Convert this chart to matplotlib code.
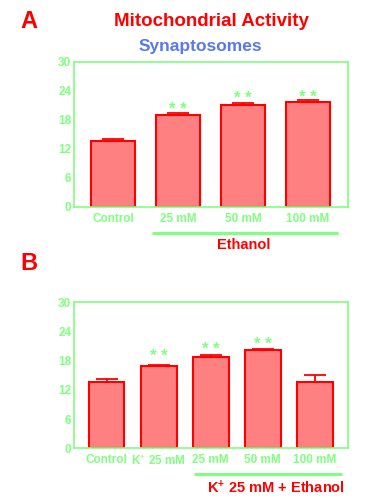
import matplotlib
matplotlib.use("Agg")
import matplotlib.pyplot as plt
import matplotlib.transforms as mtransforms

plt.rcParams['font.family'] = ['Liberation Sans', 'DejaVu Sans']
plt.rcParams['mathtext.fontset'] = 'custom'
plt.rcParams['mathtext.rm'] = 'Liberation Sans'
plt.rcParams['mathtext.bf'] = 'Liberation Sans:bold'
plt.rcParams['mathtext.it'] = 'Liberation Sans:italic'

# ---- data ----
cats_a = ["Control", "25 mM", "50 mM", "100 mM"]
vals_a = [13.7, 19.0, 21.0, 21.8]
err_a = [0.45, 0.45, 0.55, 0.4]
stars_a = [None, 21.3, 23.5, 23.8]

cats_b = ["Control", "K$^{+}$ 25 mM", "25 mM", "50 mM", "100 mM"]
vals_b = [13.6, 16.85, 18.8, 20.2, 13.6]
err_b = [0.6, 0.3, 0.35, 0.15, 1.5]
stars_b = [None, 19.9, 21.4, 22.3, None]

yticks = [0, 6, 12, 18, 24, 30]

GREEN = "#80ff80"
RED = "#ff0000"
FILL = "#ff8080"
BLUE = "#5a78ee"

fig = plt.figure(figsize=(3.87, 5.0), dpi=100)


def panel(rect, cats, vals, errs, stars, xlim, width):
    ax = fig.add_axes(rect)
    x = list(range(len(cats)))
    ax.bar(x, vals, width=width, color=FILL, edgecolor=RED, linewidth=1.5, zorder=2)
    ax.errorbar(x, vals, yerr=[[0] * len(errs), errs], fmt='none', ecolor=RED,
                elinewidth=1.3, capsize=8, capthick=1.3, zorder=3)
    for xi, s in zip(x, stars):
        if s is not None:
            ax.annotate("* *", xy=(xi, s), xytext=(0, -7), textcoords='offset points',
                        ha='center', va='baseline', color=GREEN, fontsize=12,
                        fontweight='bold')
    ax.set_xlim(*xlim)
    ax.set_ylim(0, 30)
    ax.set_yticks(yticks)
    ax.set_yticklabels([str(t) for t in yticks])
    ax.set_xticks(x)
    ax.set_xticklabels(cats)
    ax.tick_params(length=0, colors=GREEN, labelsize=8.5, pad=4)
    ax.tick_params(axis='y', pad=2)
    for lab in ax.get_xticklabels() + ax.get_yticklabels():
        lab.set_fontweight('bold')
    for sp in ax.spines.values():
        sp.set_color(GREEN)
        sp.set_linewidth(1.2)
    return ax


ax_a = panel([74 / 387, 1 - 207 / 500, 274 / 387, 145 / 500],
             cats_a, vals_a, err_a, stars_a, (-0.6, 3.62), 0.68)
ax_b = panel([74 / 387, 1 - 448.3 / 500, 274 / 387, 146 / 500],
             cats_b, vals_b, err_b, stars_b, (-0.625, 4.64), 0.69)

# group annotations
tr_a = mtransforms.blended_transform_factory(ax_a.transData, ax_a.transAxes)
ax_a.plot([0.6, 3.46], [-0.179, -0.179], color=GREEN, lw=2.2, transform=tr_a,
          clip_on=False, solid_capstyle='butt')
ax_a.text(2.02, -0.262, "Ethanol", transform=tr_a, ha='center', va='center',
          color=RED, fontsize=10.5, fontweight='bold')

tr_b = mtransforms.blended_transform_factory(ax_b.transData, ax_b.transAxes)
ax_b.plot([1.68, 4.53], [-0.176, -0.176], color=GREEN, lw=2.2, transform=tr_b,
          clip_on=False, solid_capstyle='butt')
ax_b.text(3.26, -0.272, r"K$^{\mathbf{+}}$ 25 mM + Ethanol", transform=tr_b,
          ha='center', va='center', color=RED, fontsize=10.5, fontweight='bold')

# titles
fig.text(0.052, 0.956, "A", color=RED, fontsize=17, fontweight='bold',
         ha='left', va='center')
fig.text(0.052, 0.472, "B", color=RED, fontsize=17, fontweight='bold',
         ha='left', va='center')
fig.text(0.5465, 0.956, "Mitochondrial Activity", color=RED, fontsize=13.5,
         fontweight='bold', ha='center', va='center')
fig.text(0.519, 0.908, "Synaptosomes", color=BLUE, fontsize=12.5,
         fontweight='bold', ha='center', va='center')

fig.savefig("out.png", dpi=100)
